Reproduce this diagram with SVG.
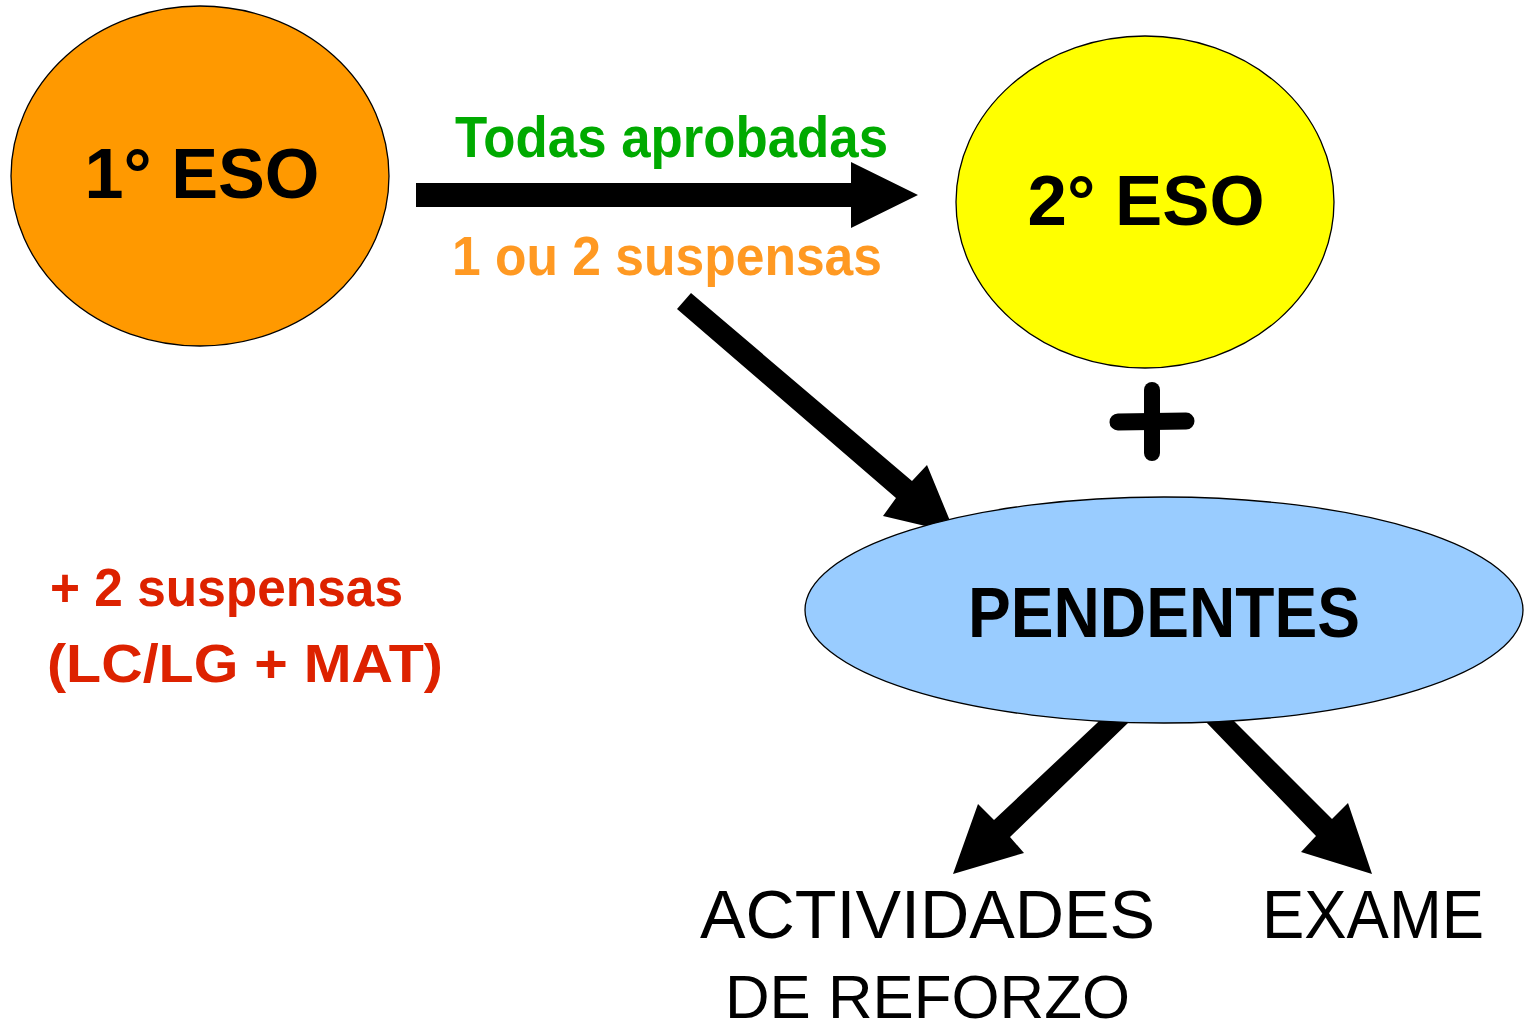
<svg xmlns="http://www.w3.org/2000/svg" width="1530" height="1031" viewBox="0 0 1530 1031">
<style>
.node{stroke:#000;stroke-width:1.3}
.t{font-family:"Liberation Sans","DejaVu Sans",Arial,sans-serif;font-weight:bold}
.tn{font-family:"Liberation Sans","DejaVu Sans",Arial,sans-serif;font-weight:normal}
.arrow{fill:#000}
</style>
<rect width="1530" height="1031" fill="#fff"/>
<g id="connectors">
<polygon class="arrow" points="416,183 851,183 851,162 918,195 851,228 851,207 416,207"/>
<polygon class="arrow" points="677,309 691,293 912,481 927,465 955,533 883,516 896,498"/>
<polygon class="arrow" points="1113,708 1128,723 1010,837 1024,853 953,874 978,804 994,820"/>
<polygon class="arrow" points="1221,708 1206,722 1316,836 1301,852 1372,874 1348,803 1332,819"/>
</g>
<g id="node-1eso">
<ellipse class="node" cx="200" cy="176" rx="189" ry="170" fill="#FF9900"/>
<text class="t" x="202" y="198" font-size="70" text-anchor="middle" textLength="235" lengthAdjust="spacingAndGlyphs">1° ESO</text>
</g>
<g id="node-2eso">
<ellipse class="node" cx="1145" cy="202" rx="189" ry="166" fill="#FFFF00"/>
<text class="t" x="1146" y="225" font-size="70" text-anchor="middle" textLength="237" lengthAdjust="spacingAndGlyphs">2° ESO</text>
</g>
<g id="label-todas">
<text class="t" x="455" y="157" font-size="58" fill="#00AA00" textLength="433" lengthAdjust="spacingAndGlyphs">Todas aprobadas</text>
</g>
<g id="label-suspensas">
<text class="t" x="452" y="275" font-size="56" fill="#FF9922" textLength="430" lengthAdjust="spacingAndGlyphs">1 ou 2 suspensas</text>
</g>
<g id="plus">
<line x1="1152" y1="390" x2="1152" y2="453" stroke="#000" stroke-width="16" stroke-linecap="round"/>
<line x1="1118" y1="422" x2="1186" y2="421" stroke="#000" stroke-width="17" stroke-linecap="round"/>
</g>
<g id="node-pendentes">
<ellipse class="node" cx="1164" cy="610" rx="359" ry="113" fill="#99CCFF"/>
<text class="t" x="1164" y="637" font-size="70" text-anchor="middle" textLength="392" lengthAdjust="spacingAndGlyphs">PENDENTES</text>
</g>
<g id="label-mais2">
<text class="t" x="50" y="606" font-size="53" fill="#DD2200" textLength="353" lengthAdjust="spacingAndGlyphs">+ 2 suspensas</text>
<text class="t" x="47" y="682" font-size="53" fill="#DD2200" textLength="396" lengthAdjust="spacingAndGlyphs">(LC/LG + MAT)</text>
</g>
<g id="node-actividades">
<text class="tn" x="700" y="938" font-size="68" textLength="455" lengthAdjust="spacingAndGlyphs">ACTIVIDADES</text>
<text class="tn" x="725" y="1018" font-size="62" textLength="405" lengthAdjust="spacingAndGlyphs">DE REFORZO</text>
</g>
<g id="node-exame">
<text class="tn" x="1262" y="938" font-size="68" textLength="222" lengthAdjust="spacingAndGlyphs">EXAME</text>
</g>
</svg>
